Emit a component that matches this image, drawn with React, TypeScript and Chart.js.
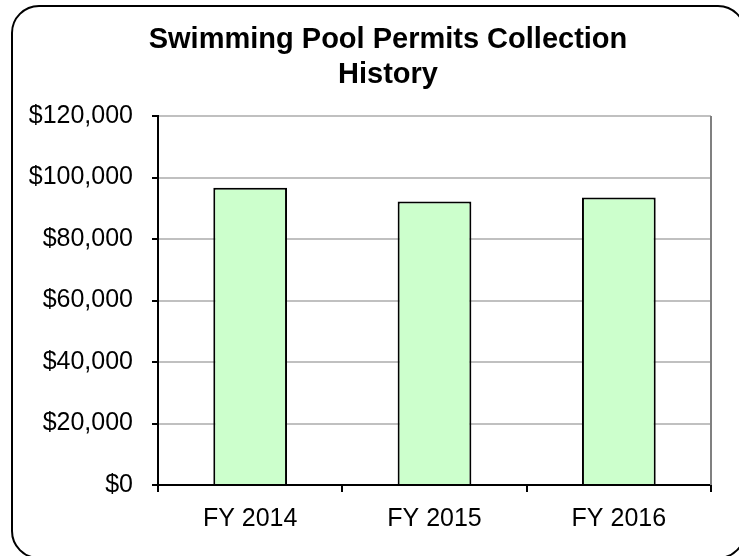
import React, { useEffect, useRef } from "react";
import { Chart, registerables } from "chart.js";

Chart.register(...registerables);

const categories = ["FY 2014", "FY 2015", "FY 2016"];
const collections = [96700, 92200, 93500];
const yMin = 0;
const yMax = 120000;
const yStep = 20000;
const titleLines = ["Swimming Pool Permits Collection", "History"];

const FONT = "'Liberation Sans', Arial, Helvetica, sans-serif";

const framePlugin = {
  id: "frame",
  afterLayout(chart: any) {
    // let the y-axis labels extend into the left padding without clipping
    const y = chart.scales.y;
    if (y) y.left = 12;
  },
  beforeDraw(chart: any) {
    const ctx = chart.ctx as CanvasRenderingContext2D;
    ctx.save();
    ctx.fillStyle = "#ffffff";
    ctx.fillRect(0, 0, chart.width, chart.height);
    ctx.beginPath();
    (ctx as any).roundRect(12, 6, 733, 552, 27);
    ctx.fillStyle = "#ffffff";
    ctx.fill();
    ctx.lineWidth = 2;
    ctx.strokeStyle = "#000000";
    ctx.stroke();
    ctx.restore();
  },
  afterDraw(chart: any) {
    const { ctx, chartArea } = chart;
    ctx.save();
    ctx.strokeStyle = "#808080";
    ctx.lineWidth = 2;
    ctx.beginPath();
    ctx.moveTo(chartArea.right, chartArea.top);
    ctx.lineTo(chartArea.right, chartArea.bottom);
    ctx.stroke();
    ctx.restore();
  },
};

export default function App() {
  const ref = useRef<HTMLCanvasElement | null>(null);

  useEffect(() => {
    if (!ref.current) return;
    const chart = new Chart(ref.current, {
      type: "bar",
      data: {
        labels: categories,
        datasets: [
          {
            label: "Collections",
            data: collections,
            backgroundColor: "#ccffcc",
            borderColor: "#000000",
            borderWidth: 2,
            barPercentage: 0.4,
            categoryPercentage: 1,
          },
        ],
      },
      options: {
        responsive: false,
        animation: false,
        layout: { padding: { left: 65, right: 28, top: 0, bottom: 10 } },
        plugins: {
          legend: { display: false },
          tooltip: { enabled: false },
          title: {
            display: true,
            text: titleLines,
            color: "#000000",
            font: { family: FONT, size: 29, weight: "bold", lineHeight: 1.2 },
            padding: { top: 22.8, bottom: 23.6 },
          },
        },
        scales: {
          x: {
            grid: {
              offset: true,
              drawOnChartArea: false,
              tickColor: "#000000",
              tickLength: 7,
              lineWidth: 2,
            },
            border: { color: "#000000", width: 2 },
            ticks: { color: "#000000", font: { family: FONT, size: 25 }, padding: 12 },
          },
          y: {
            min: yMin,
            max: yMax,
            ticks: {
              stepSize: yStep,
              color: "#000000",
              font: { family: FONT, size: 25 },
              padding: 19,
              callback: (v: any) => "$" + Number(v).toLocaleString("en-US"),
            },
            grid: { color: "#c0c0c0", lineWidth: 2, tickColor: "#000000", tickLength: 6 },
            border: { color: "#000000", width: 2 },
            afterFit: (s: any) => {
              s.width = 93;
            },
          },
        },
      },
      plugins: [framePlugin],
    });
    return () => chart.destroy();
  }, []);

  return (
    <div style={{ position: "fixed", left: 0, top: 0, width: 739, height: 556, background: "#fff" }}>
      <canvas ref={ref} width={739} height={556} style={{ display: "block", width: 739, height: 556 }} />
    </div>
  );
}
